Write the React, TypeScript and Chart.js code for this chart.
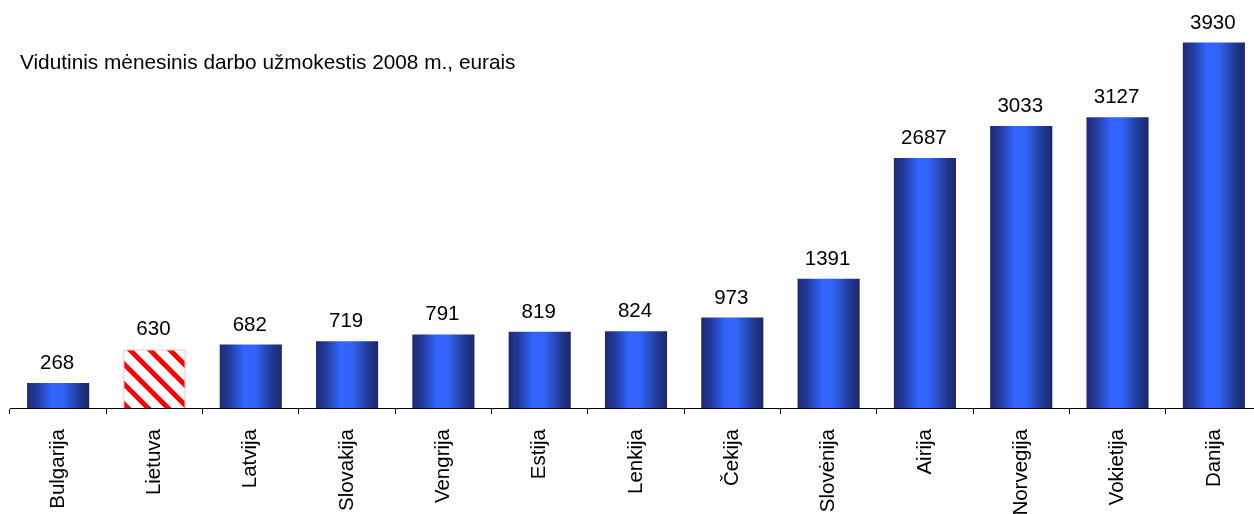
import React, { useEffect, useRef } from "react";
import { Chart, registerables } from "chart.js";

Chart.register(...registerables);

const categories = [
  "Bulgarija", "Lietuva", "Latvija", "Slovakija", "Vengrija", "Estija",
  "Lenkija", "Čekija", "Slovėnija", "Airija", "Norvegija", "Vokietija", "Danija",
];
const wages = [268, 630, 682, 719, 791, 819, 824, 973, 1391, 2687, 3033, 3127, 3930];
const highlighted = ["Lietuva"];
const chartTitle = "Vidutinis mėnesinis darbo užmokestis 2008 m., eurais";

const FONT = "'Liberation Sans', Arial, sans-serif";
const BAR_PCT = 0.645;

function makeStripePattern(ctx: CanvasRenderingContext2D): CanvasPattern | string {
  const c = document.createElement("canvas");
  c.width = 20;
  c.height = 20;
  const p = c.getContext("2d");
  if (!p) return "#ff0000";
  p.fillStyle = "#ffffff";
  p.fillRect(0, 0, 20, 20);
  p.strokeStyle = "#ff0000";
  p.lineWidth = 5;
  p.lineCap = "butt";
  for (const x0 of [-40, -20, 0, 20, 40]) {
    p.beginPath();
    p.moveTo(x0 - 10, -10);
    p.lineTo(x0 + 30, 30);
    p.stroke();
  }
  return ctx.createPattern(c, "repeat") || "#ff0000";
}

export default function App() {
  const ref = useRef<HTMLCanvasElement>(null);

  useEffect(() => {
    const canvas = ref.current;
    if (!canvas) return;
    const ctx2d = canvas.getContext("2d")!;
    const pattern = makeStripePattern(ctx2d);

    const labelPlugin = {
      id: "valueLabels",
      afterDatasetsDraw(chart: any) {
        const ctx = chart.ctx;
        const meta = chart.getDatasetMeta(0);
        ctx.save();
        ctx.fillStyle = "#000";
        ctx.font = `20.5px ${FONT}`;
        ctx.textAlign = "center";
        ctx.textBaseline = "alphabetic";
        meta.data.forEach((el: any, i: number) => {
          ctx.fillText(String(wages[i]), el.x - 1, el.y - 14);
        });
        ctx.restore();
      },
    };

    const titlePlugin = {
      id: "overlayTitle",
      afterDraw(chart: any) {
        const ctx = chart.ctx;
        ctx.save();
        ctx.fillStyle = "#000";
        ctx.font = `20.8px ${FONT}`;
        ctx.textAlign = "left";
        ctx.textBaseline = "alphabetic";
        ctx.fillText(chartTitle, 20, 69);
        ctx.restore();
      },
    };

    const chart = new Chart(canvas, {
      type: "bar",
      data: {
        labels: categories,
        datasets: [
          {
            data: wages,
            backgroundColor: (c: any) => {
              const chart = c.chart;
              const i = c.dataIndex;
              if (i === undefined || !chart.chartArea || !chart.scales.x) return "#3366ff";
              if (highlighted.includes(categories[i])) return pattern;
              const xs = chart.scales.x;
              const cx = xs.getPixelForValue(i);
              const w = (xs.width / categories.length) * BAR_PCT;
              const g = chart.ctx.createLinearGradient(cx - w / 2, 0, cx + w / 2, 0);
              g.addColorStop(0, "#1b2c72");
              g.addColorStop(0.15, "#22399a");
              g.addColorStop(0.4, "#3366ff");
              g.addColorStop(0.58, "#3163f5");
              g.addColorStop(0.85, "#213890");
              g.addColorStop(1, "#1a2866");
              return g;
            },
            borderColor: (c: any) =>
              highlighted.includes(categories[c.dataIndex]) ? "#ff8a8a" : "rgba(0,0,0,0)",
            borderWidth: (c: any) => (highlighted.includes(categories[c.dataIndex]) ? 1 : 0),
            barPercentage: BAR_PCT,
            categoryPercentage: 1,
          },
        ],
      },
      options: {
        animation: false,
        responsive: true,
        maintainAspectRatio: false,
        events: [],
        layout: { padding: { top: 36, left: 10, right: 0, bottom: 0 } },
        plugins: {
          legend: { display: false },
          tooltip: { enabled: false },
          title: { display: false },
        },
        scales: {
          y: { display: false, min: 0, max: 4000 },
          x: {
            offset: true,
            grid: {
              display: true,
              offset: true,
              drawOnChartArea: false,
              drawTicks: true,
              tickLength: 6,
              color: "#000",
              lineWidth: 1,
            },
            border: { display: true, color: "#000", width: 1 },
            ticks: {
              autoSkip: false,
              maxRotation: 90,
              minRotation: 90,
              padding: 15,
              color: "#000",
              font: { size: 20.5, family: FONT },
            },
            afterFit: (scale: any) => {
              scale.height = 106;
            },
          } as any,
        },
      },
      plugins: [labelPlugin, titlePlugin],
    });

    return () => chart.destroy();
  }, []);

  return (
    <div style={{ position: "absolute", left: 0, top: 0, width: 1254, height: 514, background: "#fff", overflow: "hidden" }}>
      <div style={{ position: "relative", width: 1262, height: 514 }}>
        <canvas ref={ref} />
      </div>
    </div>
  );
}
